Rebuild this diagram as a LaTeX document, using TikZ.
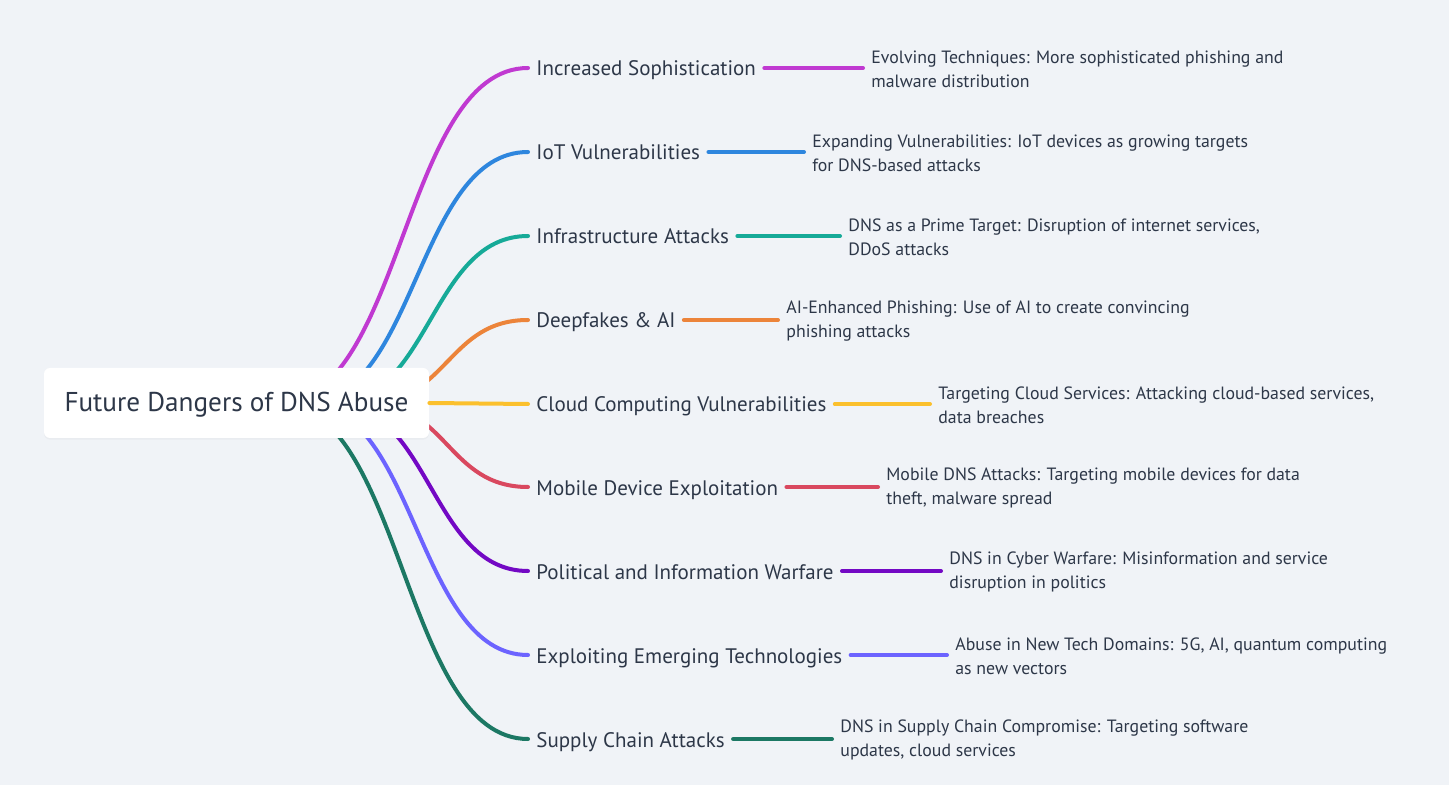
\documentclass[tikz,border=0pt]{standalone}
\usepackage{fontspec}
\setmainfont{PT Sans}
\usetikzlibrary{positioning, shadows}

\definecolor{bgcol}{RGB}{240,243,247}
\definecolor{txtcol}{RGB}{45,55,72}
\definecolor{cmagenta}{RGB}{192,57,209}
\definecolor{cblue}{RGB}{46,134,222}
\definecolor{cteal}{RGB}{22,170,152}
\definecolor{corange}{RGB}{236,132,58}
\definecolor{cyellow}{RGB}{251,192,45}
\definecolor{cred}{RGB}{217,72,95}
\definecolor{cpurple}{RGB}{115,8,196}
\definecolor{clavender}{RGB}{108,99,255}
\definecolor{cgreen}{RGB}{28,120,100}

\tikzset{
  rootbox/.style={fill=white, rounded corners=3pt, minimum width=192.5pt, minimum height=35pt,
    drop shadow={opacity=0.06, shadow xshift=0pt, shadow yshift=-0.8pt},
    text height=0.9em, text depth=0em,
    font=\fontsize{13.6}{16}\selectfont, text=txtcol},
  topic/.style={anchor=west, inner xsep=4pt, inner ysep=2pt, text height=0.85em, text depth=0.05em,
    font=\fontsize{10.5}{13}\selectfont, text=txtcol},
  detail/.style={anchor=west, inner xsep=4pt, inner ysep=2pt, align=left, font=\fontsize{8.9}{12}\selectfont, text=txtcol},
  link/.style={line width=2pt, line cap=round},
}

\begin{document}
\begin{tikzpicture}[x=0.5pt, y=-0.5pt]
\fill[bgcol] (0,0) rectangle (1449,785);
\useasboundingbox (0,0) rectangle (1449,785);

% topics
\node[topic] (t1) at (528,68) {Increased Sophistication};
\node[topic] (t2) at (528,152) {IoT Vulnerabilities};
\node[topic] (t3) at (528,236) {Infrastructure Attacks};
\node[topic] (t4) at (528,320) {Deepfakes \& AI};
\node[topic] (t5) at (528,404) {Cloud Computing Vulnerabilities};
\node[topic] (t6) at (528,487) {Mobile Device Exploitation};
\node[topic] (t7) at (528,571) {Political and Information Warfare};
\node[topic] (t8) at (528,655) {Exploiting Emerging Technologies};
\node[topic] (t9) at (528,739) {Supply Chain Attacks};

% details
\node[detail] (d1) at (863,69) {Evolving Techniques: More sophisticated phishing and\\malware distribution};
\node[detail] (d2) at (804,153) {Expanding Vulnerabilities: IoT devices as growing targets\\for DNS-based attacks};
\node[detail] (d3) at (840,237) {DNS as a Prime Target: Disruption of internet services,\\DDoS attacks};
\node[detail] (d4) at (778,321) {AI-Enhanced Phishing: Use of AI to create convincing\\phishing attacks};
\node[detail] (d5) at (930,405) {Targeting Cloud Services: Attacking cloud-based services,\\data breaches};
\node[detail] (d6) at (878,488) {Mobile DNS Attacks: Targeting mobile devices for data\\theft, malware spread};
\node[detail] (d7) at (941,572) {DNS in Cyber Warfare: Misinformation and service\\disruption in politics};
\node[detail] (d8) at (947,656) {Abuse in New Tech Domains: 5G, AI, quantum computing\\as new vectors};
\node[detail] (d9) at (832,740) {DNS in Supply Chain Compromise: Targeting software\\updates, cloud services};

% start points hidden behind the root
\coordinate (s1) at (278,403);
\coordinate (s2) at (305,403);
\coordinate (s3) at (333,403);
\coordinate (s4) at (367,403);
\coordinate (s6) at (367,403);
\coordinate (s7) at (333,403);
\coordinate (s8) at (305,403);
\coordinate (s9) at (278,403);

\draw[link, cmagenta] (s1) .. controls +(125,0) and +(-125,0) .. (t1.west);
\draw[link, cblue] (s2) .. controls +(111.5,0) and +(-111.5,0) .. (t2.west);
\draw[link, cteal] (s3) .. controls +(97.5,0) and +(-97.5,0) .. (t3.west);
\draw[link, corange] (s4) .. controls +(80.5,0) and +(-80.5,0) .. (t4.west);
\draw[link, cred] (s6) .. controls +(80.5,0) and +(-80.5,0) .. (t6.west);
\draw[link, cpurple] (s7) .. controls +(97.5,0) and +(-97.5,0) .. (t7.west);
\draw[link, clavender] (s8) .. controls +(111.5,0) and +(-111.5,0) .. (t8.west);
\draw[link, cgreen] (s9) .. controls +(125,0) and +(-125,0) .. (t9.west);

% root
\node[rootbox] (root) at (236.5,403) {Future Dangers of DNS Abuse};
\draw[link, cyellow] (root.east) -- (t5.west);

% topic to detail
\draw[link, cmagenta] (t1.east) -- (d1.west |- t1.east);
\draw[link, cblue] (t2.east) -- (d2.west |- t2.east);
\draw[link, cteal] (t3.east) -- (d3.west |- t3.east);
\draw[link, corange] (t4.east) -- (d4.west |- t4.east);
\draw[link, cyellow] (t5.east) -- (d5.west |- t5.east);
\draw[link, cred] (t6.east) -- (d6.west |- t6.east);
\draw[link, cpurple] (t7.east) -- (d7.west |- t7.east);
\draw[link, clavender] (t8.east) -- (d8.west |- t8.east);
\draw[link, cgreen] (t9.east) -- (d9.west |- t9.east);
\end{tikzpicture}
\end{document}
